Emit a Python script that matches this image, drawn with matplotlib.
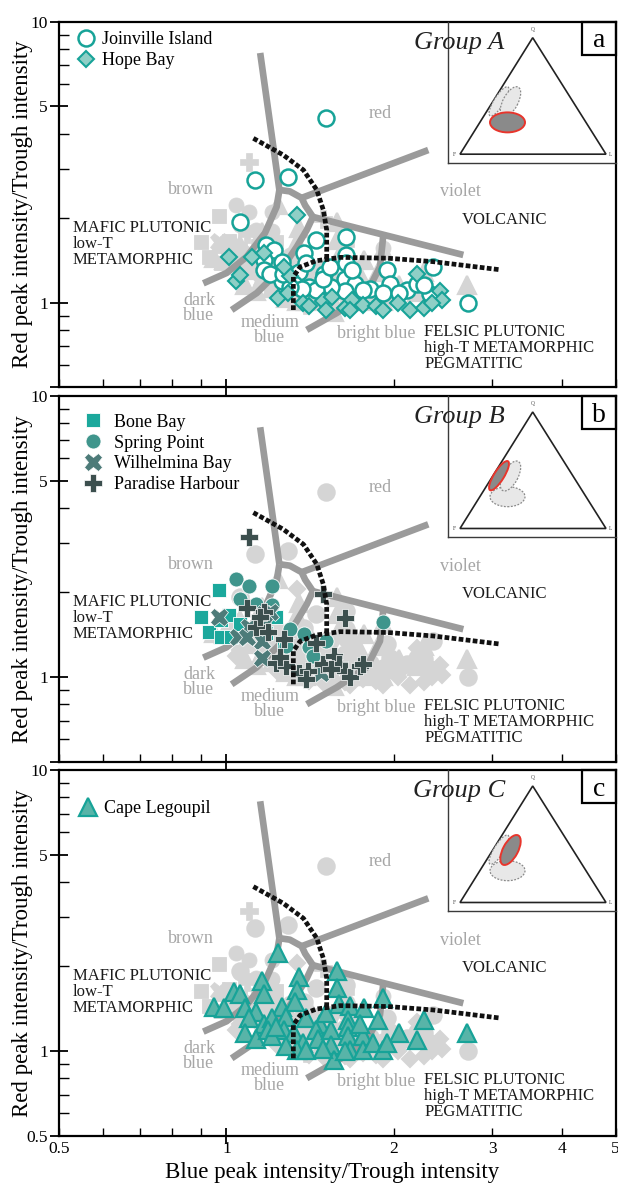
import matplotlib
matplotlib.use('Agg')
import matplotlib.pyplot as plt
from matplotlib.lines import Line2D
from matplotlib.patches import Ellipse, Polygon, Rectangle
from matplotlib.ticker import FixedLocator, FuncFormatter, NullFormatter

plt.rcParams['font.family'] = ['Liberation Serif', 'DejaVu Serif']

# ---------------- data (Blue peak/Trough, Red peak/Trough) ----------------
joinville_x = [1.51, 1.125, 1.29, 1.06, 1.64, 1.45, 1.18, 1.22, 1.38, 1.64, 1.64, 1.17, 1.26, 1.17, 1.35,
               1.39, 1.26, 1.32, 1.41, 1.50, 1.63, 1.70, 1.81, 1.94, 1.97, 2.11, 2.20, 2.32, 2.35, 2.72,
               1.63, 1.54, 1.45, 1.365, 1.30, 1.20, 1.76, 1.91, 2.04, 2.26, 1.49, 1.68, 1.535, 1.265]
joinville_y = [4.55, 2.73, 2.81, 1.93, 1.72, 1.67, 1.60, 1.54, 1.50, 1.48, 1.38, 1.42, 1.40, 1.31, 1.29,
               1.39, 1.19, 1.17, 1.14, 1.27, 1.21, 1.17, 1.12, 1.31, 1.17, 1.11, 1.17, 1.07, 1.34, 1.00,
               1.10, 1.14, 1.11, 1.12, 1.14, 1.27, 1.11, 1.08, 1.08, 1.16, 1.21, 1.31, 1.34, 1.27]

hope_x = [1.34, 1.01, 1.04, 1.06, 1.11, 1.24, 1.29, 1.37, 1.49, 1.51, 1.55, 1.63, 1.68, 1.76,
          1.86, 1.91, 2.03, 2.14, 2.20, 2.26, 2.42, 2.44, 2.34, 1.30, 1.17, 1.41, 1.27, 1.67]
hope_y = [2.05, 1.46, 1.19, 1.25, 1.46, 1.04, 1.08, 1.00, 1.01, 0.94, 1.05, 0.96, 1.02, 0.98,
          0.97, 0.94, 1.00, 0.94, 1.27, 0.96, 1.10, 1.02, 1.00, 1.24, 1.50, 0.97, 1.34, 0.94]

bone_x = [0.97, 0.90, 0.93, 0.98, 0.98, 1.02, 1.23, 1.27, 1.28, 1.01, 1.06, 1.18]
bone_y = [2.04, 1.64, 1.45, 1.39, 1.59, 1.39, 1.64, 1.32, 1.30, 1.66, 1.55, 1.44]

spring_x = [1.04, 1.10, 1.21, 1.06, 1.91, 1.30, 1.38, 1.41, 1.51, 1.43, 1.21, 1.13, 1.28]
spring_y = [2.23, 2.10, 2.10, 1.89, 1.57, 1.48, 1.42, 1.28, 1.34, 1.19, 1.80, 1.82, 1.29]

wilhelmina_x = [0.97, 1.05, 1.17, 1.16, 1.16, 1.48, 1.10, 1.20, 1.09, 1.17]
wilhelmina_y = [1.64, 1.39, 1.68, 1.34, 1.17, 1.03, 1.51, 1.70, 1.39, 1.55]

paradise_x = [1.10, 1.49, 1.63, 1.09, 1.17, 1.13, 1.19, 1.27, 1.15, 1.23, 1.28, 1.35,
              1.40, 1.45, 1.49, 1.56, 1.59, 1.63, 1.67, 1.74, 1.76, 1.39, 1.54, 1.25]
paradise_y = [3.16, 1.98, 1.62, 1.76, 1.70, 1.51, 1.45, 1.37, 1.64, 1.12, 1.09, 1.03,
              1.05, 1.32, 1.11, 1.19, 1.11, 1.05, 1.00, 1.09, 1.11, 0.98, 1.07, 1.18]

legoupil_x = [1.24, 1.35, 1.58, 1.16, 1.03, 1.06, 1.17, 1.34, 1.58, 0.95, 0.99, 1.08, 1.13, 1.26, 1.33,
              1.59, 1.67, 1.77, 1.91, 2.26, 2.70, 1.10, 1.17, 1.21, 1.28, 1.39, 1.47, 1.65, 1.87, 1.08,
              1.13, 1.19, 1.27, 1.21, 1.32, 1.37, 1.45, 1.46, 1.54, 1.65, 1.65, 1.76, 1.54, 1.67, 1.56,
              1.76, 1.83, 1.91, 2.04, 2.20, 1.94, 1.63, 1.34, 1.28, 1.39, 1.49, 1.74, 1.51, 1.23]
legoupil_y = [2.23, 1.84, 1.93, 1.78, 1.62, 1.60, 1.60, 1.65, 1.67, 1.44, 1.42, 1.42, 1.38, 1.44, 1.49,
              1.47, 1.45, 1.42, 1.54, 1.29, 1.16, 1.31, 1.25, 1.31, 1.32, 1.31, 1.25, 1.29, 1.29, 1.16,
              1.10, 1.19, 1.19, 1.13, 1.16, 1.07, 1.19, 1.10, 1.19, 1.22, 1.13, 1.13, 1.05, 1.01, 0.93,
              1.01, 1.07, 1.01, 1.16, 1.09, 1.07, 1.00, 1.01, 1.04, 1.01, 1.02, 1.25, 1.36, 1.22]

# field boundaries (grey solid lines)
stem_x = [1.15, 1.245]
stem_y = [7.74, 2.52]
brown_dark_x = [1.245, 1.231, 1.173, 1.088, 1.001, 0.909]
brown_dark_y = [2.52, 2.196, 1.77, 1.458, 1.276, 1.172]
link_x = [1.245, 1.30, 1.365, 1.385, 1.43]
link_y = [2.52, 2.49, 2.36, 2.22, 2.02]
red_violet_x = [1.365, 2.304]
red_violet_y = [2.36, 3.494]
violet_blue_x = [1.43, 2.663]
violet_blue_y = [2.02, 1.479]
medium_x = [1.43, 1.394, 1.338, 1.265, 1.134, 1.022]
medium_y = [2.02, 1.814, 1.582, 1.343, 1.083, 0.942]
bright_x = [1.913, 1.905, 1.887, 1.786, 1.578, 1.394]
bright_y = [1.746, 1.60, 1.343, 1.083, 0.919, 0.80]

# rock-type boundaries (black dotted lines)
dash_v_x = [1.118, 1.265, 1.375, 1.453, 1.493, 1.514, 1.514]
dash_v_y = [3.846, 3.355, 2.966, 2.52, 2.137, 1.814, 1.40]
dash_h_x = [1.319, 1.319, 1.356, 1.45, 1.60, 1.95, 2.35, 3.10]
dash_h_y = [0.942, 1.237, 1.34, 1.41, 1.45, 1.44, 1.40, 1.31]

# field labels
colour_labels = ['red', 'brown', 'violet', 'dark\nblue', 'medium\nblue', 'bright blue']
colour_lab_x = [1.887, 0.864, 2.637, 0.893, 1.197, 1.859]
colour_lab_y = [4.73, 2.52, 2.48, 0.958, 0.80, 0.78]

rock_labels = ['MAFIC PLUTONIC\nlow-T\nMETAMORPHIC', 'VOLCANIC',
               'FELSIC PLUTONIC\nhigh-T METAMORPHIC\nPEGMATITIC']

series_names = ['Joinville Island', 'Hope Bay', 'Bone Bay', 'Spring Point',
                'Wilhelmina Bay', 'Paradise Harbour', 'Cape Legoupil']
series_x = [joinville_x, hope_x, bone_x, spring_x, wilhelmina_x, paradise_x, legoupil_x]
series_y = [joinville_y, hope_y, bone_y, spring_y, wilhelmina_y, paradise_y, legoupil_y]
group_of = ['A', 'A', 'B', 'B', 'B', 'B', 'C']
groups = ['A', 'B', 'C']
panel_letters = ['a', 'b', 'c']

# ---------------- styles ----------------
TEAL = '#17a398'
styles = [
    dict(marker='o', ms=11.5, mfc='white', mec=TEAL, mew=1.8),
    dict(marker='D', ms=8.4, mfc='#8fcfc6', mec=TEAL, mew=1.5),
    dict(marker='s', ms=10.5, mfc='#1ba89c', mec='white', mew=0.6),
    dict(marker='o', ms=10.8, mfc='#3f958c', mec='white', mew=0.6),
    dict(marker='X', ms=13.5, mfc='#4d7b79', mec='white', mew=0.5),
    dict(marker='P', ms=13.5, mfc='#3c4f4e', mec='white', mew=0.5),
    dict(marker='^', ms=12.5, mfc='#58b4a8', mec=TEAL, mew=1.6),
]
GREY_PT = '#d5d5d5'
GREY_LN = '#9b9b9b'
GREY_TX = '#a6a6a6'

W, H = 618, 1185
left_px, right_px = 58.7, 615.7
panel_tops = [21.7, 396.0, 770.0]
panel_h = 365.6

legend_anchor = {'A': (0.032, 0.974), 'B': (0.046, 0.952), 'C': (0.037, 0.917)}
legend_tpad = {'A': 0.42, 'B': 0.62, 'C': 0.34}

ell_specs = {'A': (59.8, 40.8, 35, 20, 0), 'B': (51.3, 61.8, 34, 10, 58),
             'C': (62.8, 61.5, 33, 15, 62)}

fig = plt.figure(figsize=(W / 100, H / 100), dpi=100)

for i, g in enumerate(groups):
    top = panel_tops[i]
    ax = fig.add_axes([left_px / W, 1 - (top + panel_h) / H,
                       (right_px - left_px) / W, panel_h / H])
    ax.set_xscale('log')
    ax.set_yscale('log')
    ax.set_xlim(0.5, 5)
    ax.set_ylim(0.5, 10)
    for sp in ax.spines.values():
        sp.set_linewidth(1.6)

    # grey background = other groups
    for k in range(len(series_names)):
        if group_of[k] != g:
            st = styles[k]
            ax.plot(series_x[k], series_y[k], linestyle='none', marker=st['marker'],
                    ms=st['ms'], mfc=GREY_PT, mec=GREY_PT, mew=st['mew'], zorder=1)

    # grey boundaries
    for bx, by in [(stem_x, stem_y), (brown_dark_x, brown_dark_y), (link_x, link_y),
                   (red_violet_x, red_violet_y), (violet_blue_x, violet_blue_y),
                   (medium_x, medium_y), (bright_x, bright_y)]:
        ax.plot(bx, by, color=GREY_LN, lw=4.8, solid_capstyle='butt',
                solid_joinstyle='round', zorder=2)

    for lab, lx, ly in zip(colour_labels, colour_lab_x, colour_lab_y):
        ax.text(lx, ly, lab, color=GREY_TX, fontsize=13, ha='center', va='center',
                linespacing=0.85, zorder=2)

    ax.text(0.530, 1.969, rock_labels[0], fontsize=12, ha='left', va='top',
            linespacing=1.0, color='#1a1a1a', zorder=2)
    ax.text(3.157, 1.969, rock_labels[1], fontsize=12, ha='center', va='center',
            color='#1a1a1a', zorder=2)
    ax.text(2.264, 0.840, rock_labels[2], fontsize=12, ha='left', va='top',
            linespacing=1.0, color='#1a1a1a', zorder=2)

    # coloured group data
    handles, labels = [], []
    for k in range(len(series_names)):
        if group_of[k] == g:
            st = styles[k]
            ax.plot(series_x[k], series_y[k], linestyle='none', zorder=3, **st)
            handles.append(Line2D([], [], linestyle='none', **st))
            labels.append(series_names[k])

    # dotted rock boundaries
    for dx, dy in [(dash_v_x, dash_v_y), (dash_h_x, dash_h_y)]:
        ax.plot(dx, dy, color='#111111', lw=3.4, linestyle=(0, (1.0, 0.5)),
                dash_capstyle='butt', zorder=4)

    ax.legend(handles, labels, loc='upper left', bbox_to_anchor=legend_anchor[g],
              frameon=False, fontsize=13, handlelength=1.0,
              handletextpad=legend_tpad[g], labelspacing=0.22, borderaxespad=0,
              borderpad=0)

    # ticks
    ax.xaxis.set_major_locator(FixedLocator([1]))
    ax.xaxis.set_minor_locator(FixedLocator([0.5, 0.6, 0.7, 0.8, 0.9, 2, 3, 4, 5]))
    ax.yaxis.set_major_locator(FixedLocator([0.5, 1, 5, 10]))
    ax.yaxis.set_minor_locator(FixedLocator([0.6, 0.7, 0.8, 0.9, 2, 3, 4, 6, 7, 8, 9]))
    bottom = (i == len(groups) - 1)
    if bottom:
        ax.xaxis.set_major_formatter(FuncFormatter(lambda v, p: '%g' % v))
        ax.xaxis.set_minor_formatter(FuncFormatter(
            lambda v, p: ('%g' % v) if v in (0.5, 2, 3, 4, 5) else ''))
        ax.yaxis.set_major_formatter(FuncFormatter(lambda v, p: '%g' % v))
    else:
        ax.xaxis.set_major_formatter(NullFormatter())
        ax.xaxis.set_minor_formatter(NullFormatter())
        ax.yaxis.set_major_formatter(FuncFormatter(lambda v, p: '' if v == 0.5 else '%g' % v))
    ax.yaxis.set_minor_formatter(NullFormatter())
    ax.tick_params(axis='x', which='major', direction='inout', length=12, width=1.3,
                   pad=-2, labelsize=12.5)
    ax.tick_params(axis='x', which='minor', direction='in', length=6, width=1.0,
                   pad=4, labelsize=12.5)
    ax.tick_params(axis='y', which='major', direction='inout', length=13, width=1.3,
                   pad=1.2, labelsize=12.5)
    ax.tick_params(axis='y', which='minor', direction='in', length=7, width=1.0)

    ax.set_ylabel('Red peak intensity/Trough intensity', fontsize=16.5)
    ax.yaxis.set_label_coords(-0.046, 0.5)
    if bottom:
        ax.set_xlabel('Blue peak intensity/Trough intensity', fontsize=16.5)
        ax.xaxis.set_label_coords(0.49, -0.072)

    # panel letter and group title
    ax.add_patch(Rectangle((0.939, 0.909), 0.061, 0.091, transform=ax.transAxes,
                           fill=False, lw=1.6, ec='black', clip_on=False, zorder=6))
    ax.text(0.970, 0.930, panel_letters[i], transform=ax.transAxes, fontsize=20,
            ha='center', va='baseline', zorder=6)
    ax.text(0.719, 0.926, 'Group ' + g, transform=ax.transAxes, fontsize=19,
            style='italic', ha='center', va='baseline', color='#222222', zorder=6)

    # QFL inset
    ins = ax.inset_axes([0.6984, 0.613, 0.3016, 0.387])
    ins.set_xlim(0, 168.0)
    ins.set_ylim(0, 141.5)
    ins.set_xticks([])
    ins.set_yticks([])
    ins.patch.set_alpha(0)
    for s in ['top', 'right']:
        ins.spines[s].set_visible(False)
    for s in ['left', 'bottom']:
        ins.spines[s].set_linewidth(1.0)
        ins.spines[s].set_color('#3a3a3a')
    ins.add_patch(Polygon([[85, 125.5], [12.3, 9], [158.3, 9]], closed=True,
                          fill=False, ec='#222222', lw=1.2))
    ins.text(85, 133.5, 'Q', fontsize=4, ha='center', va='center', color='#444444')
    ins.text(7.0, 9, 'F', fontsize=4, ha='center', va='center', color='#444444')
    ins.text(162.5, 9, 'L', fontsize=4, ha='center', va='center', color='#444444')
    for gg in groups:
        if gg != g:
            cx, cy, ew, eh, ang = ell_specs[gg]
            ins.add_patch(Ellipse((cx, cy), ew, eh, angle=ang, fc='#e8e8e8',
                                  ec='#8a8a8a', lw=0.9, ls=(0, (1.5, 1.2))))
    cx, cy, ew, eh, ang = ell_specs[g]
    ins.add_patch(Ellipse((cx, cy), ew, eh, angle=ang, fc='#8a8a8a', ec='#e8352c',
                          lw=1.4, zorder=5))

fig.savefig('out.png', dpi=100)
